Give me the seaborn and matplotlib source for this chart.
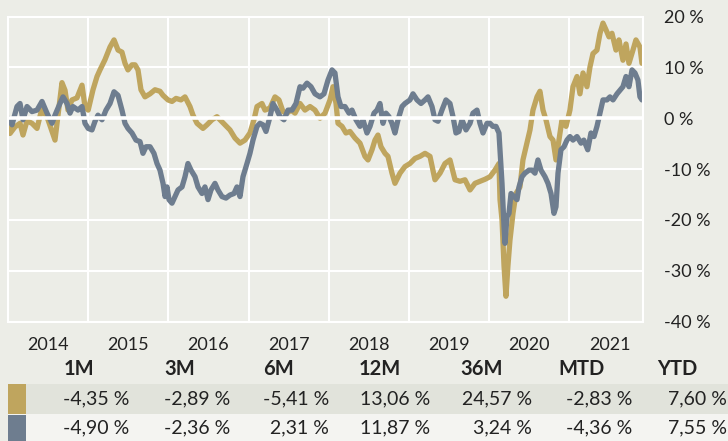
import pandas as pd
import seaborn as sns
import matplotlib.pyplot as plt
from matplotlib.patches import Rectangle

# decimal years / performance in %
gold_t = [2014.000, 2014.025, 2014.087, 2014.150, 2014.187, 2014.237, 2014.299, 2014.362, 2014.424, 2014.499,
          2014.586, 2014.623, 2014.673, 2014.711, 2014.748, 2014.798, 2014.860, 2014.923, 2014.960, 2015.000,
          2015.060, 2015.110, 2015.147, 2015.209, 2015.272, 2015.322, 2015.372, 2015.421, 2015.459, 2015.496,
          2015.546, 2015.584, 2015.621, 2015.658, 2015.708, 2015.771, 2015.833, 2015.895, 2015.933, 2015.995,
          2016.045, 2016.095, 2016.157, 2016.207, 2016.269, 2016.307, 2016.357, 2016.431, 2016.481, 2016.544,
          2016.606, 2016.643, 2016.706, 2016.768, 2016.830, 2016.893, 2016.955, 2017.017, 2017.067, 2017.105,
          2017.167, 2017.204, 2017.267, 2017.329, 2017.379, 2017.429, 2017.479, 2017.529, 2017.579, 2017.641,
          2017.703, 2017.766, 2017.828, 2017.890, 2017.953, 2018.015, 2018.052, 2018.090, 2018.115, 2018.165,
          2018.214, 2018.264, 2018.327, 2018.389, 2018.451, 2018.489, 2018.539, 2018.576, 2018.613, 2018.651,
          2018.701, 2018.738, 2018.788, 2018.825, 2018.888, 2018.950, 2019.012, 2019.075, 2019.137, 2019.200,
          2019.262, 2019.324, 2019.387, 2019.449, 2019.511, 2019.574, 2019.636, 2019.698, 2019.761, 2019.823,
          2019.885, 2019.948, 2020.010, 2020.072, 2020.122, 2020.135, 2020.160, 2020.185, 2020.209, 2020.234,
          2020.259, 2020.297, 2020.334, 2020.384, 2020.421, 2020.471, 2020.509, 2020.546, 2020.596, 2020.633,
          2020.671, 2020.708, 2020.758, 2020.796, 2020.833, 2020.870, 2020.908, 2020.958, 2021.007, 2021.045,
          2021.095, 2021.132, 2021.170, 2021.219, 2021.257, 2021.294, 2021.344, 2021.382, 2021.419, 2021.459,
          2021.494, 2021.531, 2021.581, 2021.618, 2021.668, 2021.706, 2021.743, 2021.793, 2021.830, 2021.880,
          2021.905]
gold_v = [0.0, -3.0, -1.7, -1.0, -3.3, -0.5, -1.0, -2.0, 2.0, -0.3,
          -4.3, 0.5, 7.0, 5.5, 1.6, 3.6, 4.0, 6.5, 2.3, 1.6,
          5.6, 8.2, 9.5, 11.5, 14.0, 15.4, 13.4, 13.0, 10.8, 9.5,
          10.5, 10.5, 9.5, 5.6, 4.2, 4.8, 5.6, 5.3, 4.5, 3.6,
          3.3, 3.9, 3.6, 4.2, 2.3, 0.6, -1.0, -2.0, -1.3, -0.3,
          0.3, -0.3, -1.3, -2.3, -3.9, -4.9, -4.3, -2.9, -0.3, 2.3,
          2.9, 1.6, 2.0, 4.2, 3.6, 1.3, 1.0, 1.6, 1.0, 2.9,
          1.6, 2.3, 1.6, 0.0, 1.0, 3.6, 6.2, 2.9, -1.0, -1.6,
          -2.9, -2.6, -3.9, -4.9, -7.5, -8.2, -6.2, -4.3, -3.3, -5.6,
          -6.9, -7.5, -10.8, -12.8, -10.8, -9.5, -8.9, -7.9, -7.5, -6.9,
          -7.5, -12.1, -10.8, -8.9, -8.2, -12.1, -12.4, -12.1, -14.1, -12.8,
          -12.4, -12.0, -11.5, -10.2, -8.9, -16.0, -20.0, -29.0, -35.0, -29.0,
          -24.0, -18.7, -14.8, -13.5, -8.2, -4.9, -2.3, 1.6, 4.2, 5.3,
          1.6, -0.3, -3.6, -4.3, -8.2, -4.3, -0.3, -1.6, 1.6, 6.2,
          8.2, 4.8, 8.9, 6.2, 10.1, 12.7, 13.4, 16.7, 18.7, 17.3,
          16.0, 16.7, 13.4, 15.4, 11.4, 14.6, 10.8, 13.4, 15.4, 14.0,
          10.8]

slate_t = [2014.000, 2014.050, 2014.112, 2014.150, 2014.187, 2014.237, 2014.299, 2014.362, 2014.424, 2014.486,
           2014.549, 2014.586, 2014.648, 2014.686, 2014.736, 2014.773, 2014.810, 2014.873, 2014.923, 2014.960,
           2015.000, 2015.047, 2015.085, 2015.122, 2015.172, 2015.222, 2015.272, 2015.322, 2015.372, 2015.421,
           2015.459, 2015.496, 2015.546, 2015.596, 2015.646, 2015.683, 2015.721, 2015.771, 2015.820, 2015.858,
           2015.895, 2015.933, 2015.958, 2015.983, 2016.007, 2016.045, 2016.082, 2016.120, 2016.170, 2016.207,
           2016.244, 2016.282, 2016.332, 2016.369, 2016.419, 2016.456, 2016.494, 2016.531, 2016.581, 2016.618,
           2016.668, 2016.718, 2016.768, 2016.818, 2016.855, 2016.893, 2016.930, 2016.980, 2017.017, 2017.055,
           2017.105, 2017.142, 2017.180, 2017.217, 2017.267, 2017.304, 2017.354, 2017.392, 2017.441, 2017.491,
           2017.541, 2017.591, 2017.641, 2017.678, 2017.728, 2017.778, 2017.828, 2017.890, 2017.940, 2017.990,
           2018.040, 2018.077, 2018.115, 2018.152, 2018.202, 2018.252, 2018.289, 2018.339, 2018.389, 2018.426,
           2018.476, 2018.514, 2018.564, 2018.601, 2018.638, 2018.676, 2018.713, 2018.751, 2018.788, 2018.825,
           2018.863, 2018.913, 2018.950, 2019.012, 2019.050, 2019.100, 2019.150, 2019.200, 2019.237, 2019.287,
           2019.324, 2019.362, 2019.411, 2019.461, 2019.511, 2019.549, 2019.586, 2019.623, 2019.661, 2019.711,
           2019.761, 2019.798, 2019.848, 2019.885, 2019.923, 2019.973, 2020.010, 2020.047, 2020.085, 2020.122,
           2020.135, 2020.160, 2020.185, 2020.197, 2020.222, 2020.247, 2020.272, 2020.309, 2020.347, 2020.372,
           2020.409, 2020.446, 2020.496, 2020.534, 2020.571, 2020.608, 2020.646, 2020.696, 2020.733, 2020.771,
           2020.808, 2020.833, 2020.858, 2020.895, 2020.933, 2020.970, 2021.007, 2021.045, 2021.095, 2021.145,
           2021.180, 2021.229, 2021.269, 2021.307, 2021.344, 2021.382, 2021.419, 2021.469, 2021.506, 2021.544,
           2021.594, 2021.631, 2021.668, 2021.706, 2021.743, 2021.781, 2021.818, 2021.855, 2021.880, 2021.905]
slate_v = [0.0, -1.3, 2.3, 2.9, -0.3, 2.3, 1.3, 1.6, 3.3, 1.0,
           -1.0, 0.6, 2.9, 4.2, 2.9, 1.0, 2.3, 1.6, 2.3, -1.0,
           -2.0, -2.3, -0.6, 0.6, -0.3, 1.6, 2.9, 5.2, 4.5, 1.6,
           -1.0, -2.0, -2.9, -4.3, -4.6, -6.9, -5.6, -5.6, -6.9, -8.9,
           -10.2, -12.8, -15.4, -13.5, -16.0, -16.7, -15.4, -14.1, -13.5, -11.5,
           -8.9, -10.2, -11.5, -13.5, -14.8, -13.5, -16.0, -14.1, -12.8, -14.1,
           -15.4, -15.7, -15.1, -14.8, -13.5, -15.4, -11.5, -8.9, -6.9, -4.3,
           -1.6, -1.0, -1.3, -2.6, 0.3, 2.9, 1.6, 0.3, -0.3, 1.6,
           1.6, 2.9, 6.2, 5.9, 6.9, 6.2, 4.8, 4.2, 4.8, 7.5,
           9.5, 8.9, 4.2, 2.3, 2.3, 1.0, 1.6, -0.3, -1.6, -0.3,
           -2.9, -1.6, 1.0, 1.6, 2.9, -1.0, 1.0, 0.3, -1.0, -2.9,
           -0.3, 2.3, 2.9, 3.6, 4.8, 3.6, 2.9, 3.6, 4.2, 2.3,
           -0.3, -0.6, 1.6, 3.6, 2.9, 0.3, -2.9, -2.6, -0.3, -2.3,
           -1.0, 1.0, 1.6, -1.0, -2.9, -1.0, -1.0, -1.6, -1.6, -2.9,
           -6.2, -12.8, -21.3, -24.6, -19.4, -18.7, -14.8, -15.4, -16.0, -13.5,
           -11.5, -10.8, -10.2, -10.2, -10.8, -8.2, -10.2, -11.5, -12.8, -14.8,
           -18.7, -17.4, -10.8, -6.2, -5.6, -4.3, -3.6, -4.3, -3.6, -4.9,
           -4.3, -6.2, -2.9, -3.6, -1.6, 1.0, 3.6, 3.6, 4.2, 3.6,
           4.8, 5.5, 6.2, 8.2, 6.2, 9.5, 8.9, 7.5, 4.2, 3.6]

periods = ["1M", "3M", "6M", "12M", "36M", "MTD", "YTD"]
gold_perf = [-4.35, -2.89, -5.41, 13.06, 24.57, -2.83, 7.60]
slate_perf = [-4.90, -2.36, 2.31, 11.87, 3.24, -4.36, 7.55]

years = list(range(2014, 2022))
y_ticks = [20, 10, 0, -10, -20, -30, -40]

BG = "#ecede7"
GOLD = "#bfa55e"
SLATE = "#6e7d8f"
TXT = "#222222"

sns.set_theme(style="white")
plt.rcParams["font.family"] = ["Lato", "DejaVu Sans"]
plt.rcParams["axes.unicode_minus"] = False

df = pd.concat([
    pd.DataFrame({"t": gold_t, "v": gold_v, "series": "gold"}),
    pd.DataFrame({"t": slate_t, "v": slate_v, "series": "slate"}),
])

W, H = 728, 441
fig = plt.figure(figsize=(W / 100, H / 100), dpi=100)
fig.patch.set_facecolor(BG)
ax = fig.add_axes([8 / W, 1 - 321.7 / H, 635 / W, 305.2 / H])
ax.set_facecolor(BG)

sns.lineplot(data=df, x="t", y="v", hue="series", palette={"gold": GOLD, "slate": SLATE},
             estimator=None, linewidth=3.8, legend=False, ax=ax, zorder=2)

ax.set_xlim(2014, 2021.918)
ax.set_ylim(-40, 20)
ax.set_xlabel("")
ax.set_ylabel("")

ax.yaxis.tick_right()
ax.set_yticks(y_ticks)
ax.set_yticklabels([f"{v} %" for v in y_ticks])
ax.set_xticks([y + 0.5 for y in years])
ax.set_xticklabels([str(y) for y in years])
ax.set_xticks(years, minor=True)
ax.grid(False)
ax.grid(which="minor", axis="x", color="white", lw=1.5, zorder=1)
ax.grid(which="major", axis="y", color="white", lw=1.5, zorder=1)
ax.set_axisbelow(True)
ax.axhline(0, color="white", lw=2.6, zorder=3)
ax.tick_params(axis="both", which="both", length=0, labelsize=13, colors=TXT)
ax.tick_params(axis="x", pad=11)
ax.tick_params(axis="y", pad=15)
for s in ax.spines.values():
    s.set_color("white")
    s.set_linewidth(1.5)


def fx(px):
    return px / W


def fy(py):
    return 1 - py / H


# performance table below the chart
col_right = [129, 230, 329, 430, 532, 632, 727]
fig.patches.append(Rectangle((fx(8), fy(414)), fx(720), 30 / H, transform=fig.transFigure,
                             facecolor="#e1e3db", edgecolor="none", zorder=0))
fig.patches.append(Rectangle((fx(8), fy(441)), fx(720), 27 / H, transform=fig.transFigure,
                             facecolor="#f4f4f1", edgecolor="none", zorder=0))
fig.patches.append(Rectangle((fx(8), fy(414)), fx(18), 30 / H, transform=fig.transFigure,
                             facecolor=GOLD, edgecolor="none", zorder=1))
fig.patches.append(Rectangle((fx(8), fy(441)), fx(18), 26 / H, transform=fig.transFigure,
                             facecolor=SLATE, edgecolor="none", zorder=1))

for i, p in enumerate(periods):
    fig.text(fx(col_right[i] - 50), fy(369), p, ha="center", va="center",
             fontsize=14.5, fontweight="bold", color=TXT)
    fig.text(fx(col_right[i]), fy(399), f"{gold_perf[i]:.2f}".replace(".", ",") + " %",
             ha="right", va="center", fontsize=14, color=TXT)
    fig.text(fx(col_right[i]), fy(428), f"{slate_perf[i]:.2f}".replace(".", ",") + " %",
             ha="right", va="center", fontsize=14, color=TXT)

fig.savefig("out.png", dpi=100, facecolor=BG)
